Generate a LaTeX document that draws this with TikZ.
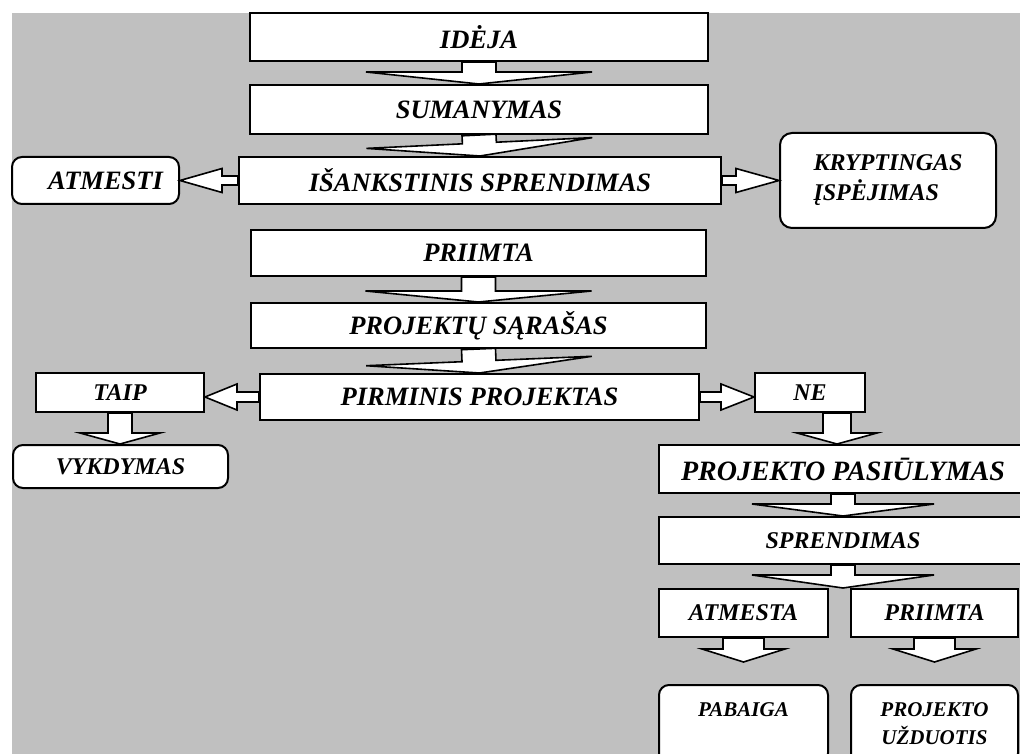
\documentclass[tikz,border=0pt]{standalone}
\usepackage{fontspec}
\setmainfont{Liberation Serif}
\usetikzlibrary{calc}

\definecolor{panel}{HTML}{C0C0C0}

\tikzset{
  box/.style={draw, line width=2pt, fill=white, inner sep=0pt, align=center,
    font=\bfseries\itshape\fontsize{26.5}{30}\selectfont},
  rbox/.style={box, rounded corners=10pt},
  bigtxt/.style={font=\bfseries\itshape\fontsize{28}{30}\selectfont},
  midtxt/.style={font=\bfseries\itshape\fontsize{24}{30}\selectfont},
  smalltxt/.style={font=\bfseries\itshape\fontsize{21}{28}\selectfont},
  barrow/.style={draw, line width=1.6pt, fill=white, line join=miter},
}

% block arrow: from, to, half shaft, half head, head length
\newcommand{\blockarrow}[5]{%
  \coordinate (ba-base) at ($(#2)!#5!(#1)$);
  \draw[barrow] ($(#1)!#3!90:(#2)$) -- ($(ba-base)!#3!90:(#2)$)
    -- ($(ba-base)!#4!90:(#2)$) -- (#2) -- ($(ba-base)!#4!-90:(#2)$)
    -- ($(ba-base)!#3!-90:(#2)$) -- ($(#1)!#3!-90:(#2)$) -- cycle;
}

\begin{document}
\begin{tikzpicture}[x=1pt, y=-1pt]
          \useasboundingbox (0,0) rectangle (1020,754);
          \clip (0,0) rectangle (1020,754);
          \fill[panel] (12,13) rectangle (1020,754);

          % Main column
          \node[box, minimum width=458pt, minimum height=48pt] (idea) at (479,37) {IDĖJA};
          \node[box, minimum width=458pt, minimum height=49pt] (sumanymas) at (479,109.5) {SUMANYMAS};
          \node[box, minimum width=482pt, minimum height=47pt] (isank) at (480,180.5) {IŠANKSTINIS SPRENDIMAS};
          \node[rbox, minimum width=167pt, minimum height=47pt] (atmesti) at (95.5,180.5) {\hspace*{20pt}ATMESTI};
          \node[rbox, midtxt, align=left, rounded corners=12pt, minimum width=216pt, minimum height=95pt] (krypt) at (888,180.5) {KRYPTINGAS\\ĮSPĖJIMAS};
          \node[box, minimum width=455pt, minimum height=46pt] (priimta) at (478.5,253) {PRIIMTA};
          \node[box, minimum width=455pt, minimum height=45pt] (sarasas) at (478.5,325.5) {PROJEKTŲ SĄRAŠAS};
          \node[box, minimum width=439pt, minimum height=46pt] (pirminis) at (479.5,397) {PIRMINIS PROJEKTAS};

          % Left branch
          \node[box, midtxt, minimum width=168pt, minimum height=39pt] (taip) at (120,392.5) {TAIP};
          \node[rbox, midtxt, minimum width=215pt, minimum height=43pt] (vykdymas) at (120.5,466.5) {VYKDYMAS};

          % Right branch
          \node[box, midtxt, minimum width=110pt, minimum height=39pt] (ne) at (810,392.5) {NE};
          \node[box, bigtxt, minimum width=368pt, minimum height=48pt] (pasiulymas) at (843,469) {PROJEKTO PASIŪLYMAS};
          \node[box, midtxt, minimum width=368pt, minimum height=47pt] (sprendimas) at (843,540.5) {SPRENDIMAS};
          \node[box, midtxt, minimum width=169pt, minimum height=48pt] (atmesta) at (743.5,613) {ATMESTA};
          \node[box, midtxt, minimum width=167pt, minimum height=48pt] (priimtaB) at (934.5,613) {PRIIMTA};
          \node[rbox, smalltxt, minimum width=169pt, minimum height=78pt] (pabaiga) at (743.5,724) {PABAIGA\\\phantom{P}};
          \node[rbox, smalltxt, minimum width=167pt, minimum height=78pt] (uzduotis) at (934.5,724) {PROJEKTO\\UŽDUOTIS};

          % Free ends and offsets
          \coordinate (ne-out) at ($(ne.south)+(27,0)$);
          \coordinate (pas-in) at (ne-out |- pasiulymas.north);
          \coordinate (split) at (sprendimas.south |- atmesta.north);
          \coordinate (atmesta-tip) at ($(atmesta.south)+(0,24)$);
          \coordinate (priimtaB-tip) at ($(priimtaB.south)+(0,24)$);

          % Arrows down
          \blockarrow{idea.south}{sumanymas.north}{17pt}{113pt}{12pt}
          \blockarrow{sumanymas.south}{isank.north}{17pt}{113pt}{13pt}
          \blockarrow{priimta.south}{sarasas.north}{17pt}{113pt}{11pt}
          \blockarrow{sarasas.south}{pirminis.north}{17pt}{113pt}{12pt}
          \blockarrow{taip.south}{taip.south |- vykdymas.north}{12pt}{40pt}{11pt}
          \blockarrow{ne-out}{pas-in}{14pt}{40pt}{11pt}
          \blockarrow{pasiulymas.south}{sprendimas.north}{12pt}{91pt}{12pt}
          \blockarrow{sprendimas.south}{split}{12pt}{91pt}{13pt}
          \blockarrow{atmesta.south}{atmesta-tip}{20.5pt}{41.5pt}{13pt}
          \blockarrow{priimtaB.south}{priimtaB-tip}{20.5pt}{41.5pt}{13pt}

          % Arrows sideways
          \blockarrow{isank.west}{atmesti.east}{4.5pt}{12pt}{42pt}
          \blockarrow{isank.east}{krypt.west}{4.5pt}{12pt}{43pt}
          \blockarrow{pirminis.west}{taip.east |- pirminis.west}{5pt}{13pt}{32pt}
          \blockarrow{pirminis.east}{ne.west |- pirminis.east}{5pt}{13pt}{33pt}

        \end{tikzpicture}
\end{document}
